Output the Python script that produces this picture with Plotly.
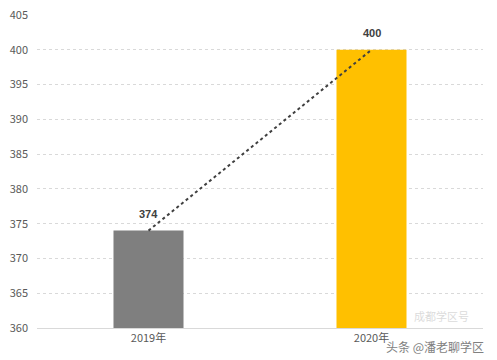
import plotly.graph_objects as go

categories = ["2019年", "2020年"]
values = [374, 400]
bar_colors = ["#7f7f7f", "#ffc000"]
y_ticks = list(range(360, 406, 5))

fig = go.Figure()
fig.add_trace(go.Bar(
    x=categories, y=values, marker=dict(color=bar_colors, line=dict(width=0)),
    width=0.314, showlegend=False, hoverinfo="skip",
))
fig.add_trace(go.Scatter(
    x=categories, y=values, mode="lines",
    line=dict(color="#404040", width=2, dash="dot"),
    showlegend=False, hoverinfo="skip",
))
for c, v in zip(categories, values):
    fig.add_annotation(
        x=c, y=v, text=f"<b>{v}</b>", showarrow=False, yshift=17,
        font=dict(family="Liberation Sans, Arial, sans-serif", size=11, color="#404040"),
    )

fig.update_layout(
    width=497, height=360,
    margin=dict(l=37, r=14, t=15, b=32, autoexpand=False),
    paper_bgcolor="white", plot_bgcolor="white",
    font=dict(family="Noto Sans CJK SC, Liberation Sans, sans-serif", size=11, color="#595959"),
    bargap=0.686,
)
fig.update_xaxes(
    showgrid=False, showline=True, linecolor="#d9d9d9", linewidth=1,
    ticks="", tickfont=dict(size=11, color="#595959"), automargin=False,
)
fig.update_yaxes(
    range=[360, 405], tickvals=y_ticks, showgrid=True, gridcolor="#d9d9d9",
    griddash="dot", gridwidth=1, zeroline=False, showline=False,
    ticks="", tickfont=dict(size=11, color="#595959"), ticklabelstandoff=8,
    automargin=False,
)
fig.add_annotation(
    x=1, y=0, xref="paper", yref="paper", xanchor="right", yanchor="top",
    yshift=-8, xshift=3, text="头条 @潘老聊学区", showarrow=False,
    font=dict(size=12, color="#6a6a6a"), opacity=0.85,
)
fig.add_annotation(
    x=1, y=0, xref="paper", yref="paper", xanchor="right", yanchor="bottom",
    yshift=2, xshift=-12, text="成都学区号", showarrow=False,
    font=dict(size=11, color="#9a9a9a"), opacity=0.35,
)

fig.write_html("out.html")
